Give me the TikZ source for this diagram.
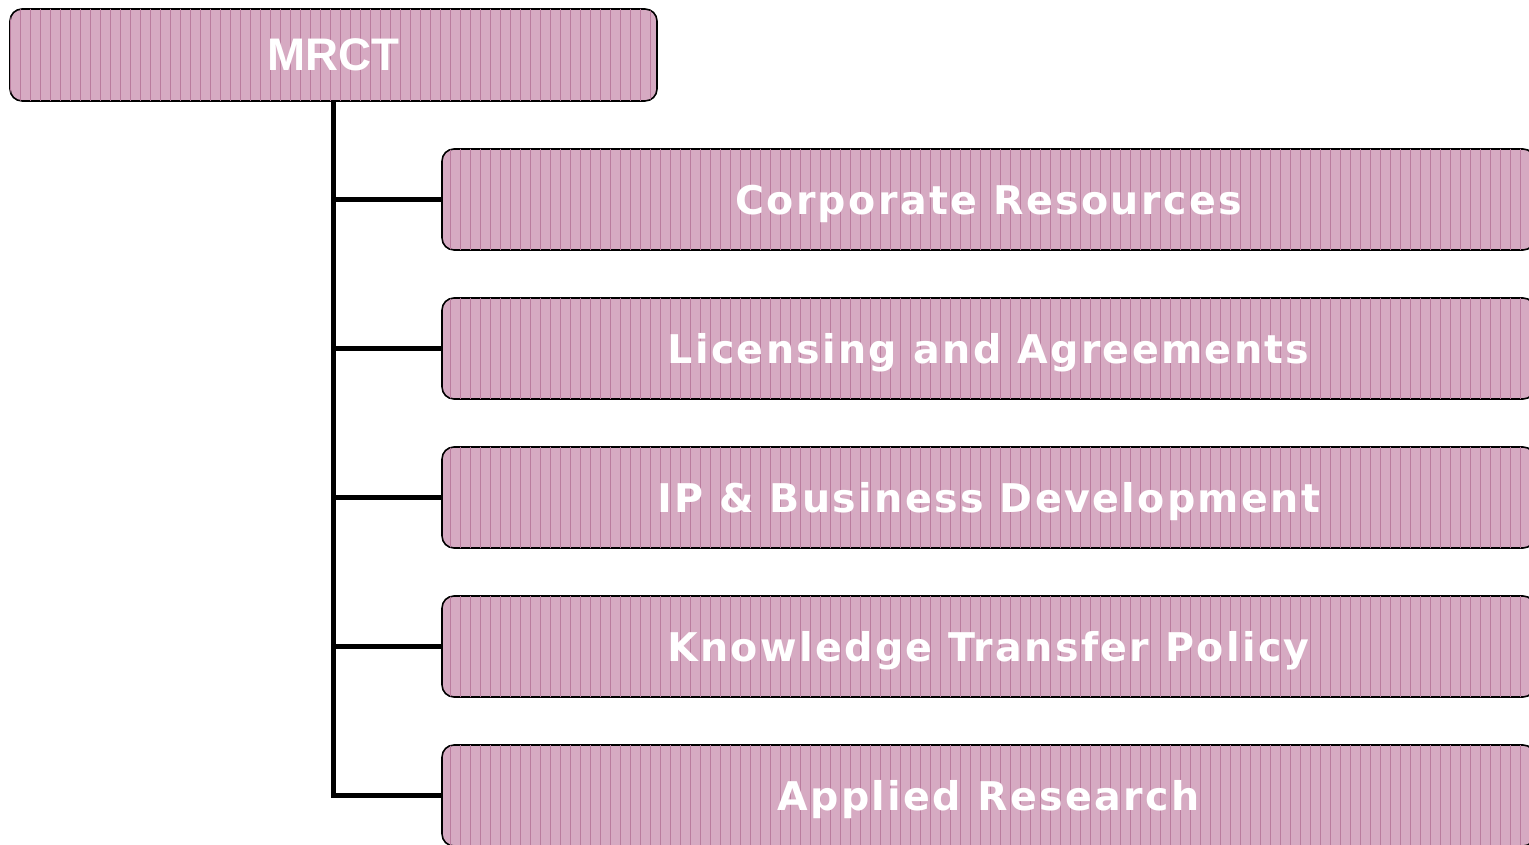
\documentclass[tikz,border=0pt]{standalone}
\usepackage{fontspec}
\newfontfamily\unitfont{DejaVu Sans}[LetterSpace=6]
\newfontfamily\headfont{Liberation Sans}
\usetikzlibrary{patterns.meta}
\definecolor{boxpink}{RGB}{214,170,194}
\definecolor{boxline}{RGB}{186,124,158}
\tikzset{
  orgbox/.style={draw=black, line width=0.9pt, rounded corners=0.24cm,
    fill=boxpink, text=white, text depth=0pt,
    postaction={pattern={Lines[angle=90,distance=0.2cm,line width=0.3pt]},
      pattern color=boxline}},
  unit/.style={orgbox, minimum width=21.86cm, minimum height=2.02cm,
    font=\unitfont\bfseries\fontsize{22.5}{26}\selectfont},
  trunk/.style={line width=2.8pt}
}
\begin{document}
\begin{tikzpicture}
  \path[use as bounding box, clip] (0,0) rectangle (30.58,-16.9);
  % head
  \node[orgbox, minimum width=12.94cm, minimum height=1.84cm,
    font=\headfont\bfseries\fontsize{26}{30}\selectfont] (mrct) at (6.67,-1.10) {MRCT};
  % units
  \node[unit] (cr) at (19.77,-3.99) {Corporate Resources};
  \node[unit] (la) at (19.77,-6.97) {Licensing and Agreements};
  \node[unit] (ip) at (19.77,-9.95) {IP \& Business Development};
  \node[unit] (kt) at (19.77,-12.93) {Knowledge Transfer Policy};
  \node[unit] (ar) at (19.77,-15.91) {Applied Research};
  % connectors
  \foreach \u in {cr,la,ip,kt,ar}
    \draw[trunk] (mrct.south) |- (\u.west);
\end{tikzpicture}
\end{document}
